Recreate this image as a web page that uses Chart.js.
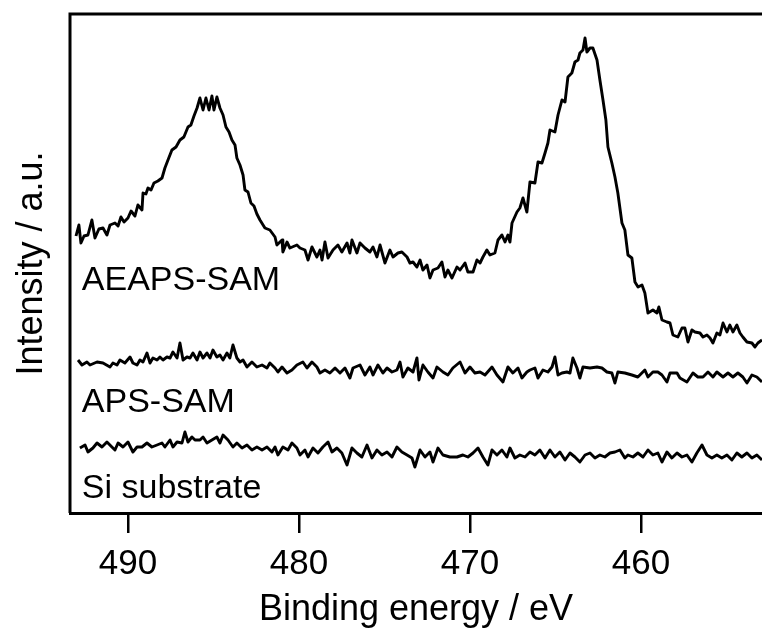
<!DOCTYPE html>
<html>
<head>
<meta charset="utf-8">
<script src="https://cdn.jsdelivr.net/npm/chart.js@4.4.1/dist/chart.umd.min.js"></script>
<style>
  html, body { margin: 0; padding: 0; background: #fff; }
  #wrap { width: 762px; height: 632px; }
</style>
</head>
<body>
<div id="wrap"><canvas id="chartXps" width="762" height="632"></canvas></div>
<script>
// binding energy (eV) / intensity (a.u.)
const aeapsEnergy = [493.04,492.87,492.75,492.57,492.34,492.11,491.93,491.70,491.46,491.23,491.05,490.76,490.58,490.41,490.23,490.00,489.82,489.59,489.42,489.18,489.12,488.95,488.83,488.65,488.48,488.25,488.01,487.84,487.66,487.43,487.19,486.96,486.73,486.49,486.32,486.14,485.96,485.79,485.61,485.44,485.26,485.09,484.97,484.80,484.62,484.44,484.27,484.09,483.92,483.74,483.63,483.45,483.27,483.16,482.98,482.81,482.63,482.46,482.28,481.99,481.70,481.40,481.29,480.99,480.94,480.70,480.53,480.12,479.94,479.65,479.47,479.24,478.95,478.77,478.65,478.48,478.30,478.01,477.72,477.49,477.19,477.02,476.90,476.61,476.43,476.14,475.85,475.67,475.44,475.26,474.97,474.68,474.50,474.21,473.98,473.68,473.51,473.33,473.10,472.92,472.75,472.51,472.34,472.16,471.87,471.64,471.46,471.29,471.05,470.76,470.58,470.29,470.12,469.82,469.59,469.41,469.24,469.01,468.83,468.54,468.36,468.13,467.95,467.78,467.66,467.54,467.25,467.08,466.90,466.67,466.49,466.20,466.02,465.79,465.61,465.44,465.32,465.03,464.85,464.62,464.44,464.27,464.04,463.86,463.68,463.57,463.39,463.27,463.16,462.98,462.81,462.57,462.40,462.22,462.05,461.93,461.70,461.52,461.35,461.11,460.94,460.76,460.53,460.35,460.17,459.94,459.77,459.59,459.30,459.06,458.95,458.77,458.48,458.30,458.13,457.84,457.60,457.43,457.25,457.02,456.84,456.55,456.37,456.14,455.96,455.79,455.56,455.38,455.20,454.97,454.80,454.62,454.39,454.21,454.04,453.80,453.51,453.33,453.16,452.92];
const aeapsIntensity = [277,288,270,277,278,293,275,284,285,278,288,290,287,296,291,295,302,297,308,303,320,319,325,323,330,332,335,345,353,363,366,373,376,386,388,397,405,415,403,415,403,417,403,416,405,398,386,381,373,368,355,348,338,323,321,310,307,299,293,285,283,276,268,273,261,271,265,268,265,263,253,266,256,263,253,271,255,263,268,261,270,260,273,260,270,265,261,266,256,268,250,263,256,260,261,256,250,251,246,253,243,248,235,243,245,251,236,243,235,246,243,250,241,241,253,250,256,263,258,260,273,278,271,278,271,290,301,305,315,301,331,330,351,350,360,370,383,381,398,413,411,436,440,451,453,460,463,475,461,465,465,453,433,413,393,366,350,336,320,290,283,258,255,231,226,228,220,200,203,200,206,193,191,190,178,176,185,185,171,183,181,180,176,178,175,170,180,178,190,181,188,181,188,180,176,171,170,166,170,173];

const apsEnergy = [492.92,492.69,492.40,492.22,491.81,491.46,491.05,490.88,490.64,490.47,490.18,489.88,489.71,489.47,489.30,489.12,488.89,488.71,488.54,488.30,488.13,487.95,487.72,487.54,487.37,487.13,486.96,486.78,486.55,486.37,486.20,485.96,485.79,485.61,485.38,485.20,485.03,484.80,484.62,484.44,484.21,484.04,483.86,483.63,483.45,483.27,483.04,482.75,482.46,482.16,481.87,481.70,481.40,481.23,480.99,480.70,480.41,480.12,479.77,479.53,479.24,478.95,478.77,478.48,478.19,477.89,477.60,477.31,477.02,476.84,476.43,476.14,475.85,475.67,475.38,475.09,474.85,474.56,474.27,474.09,473.92,473.63,473.33,473.10,472.98,472.75,472.46,472.16,471.93,471.58,471.29,471.00,470.58,470.29,470.00,469.71,469.41,469.12,468.71,468.42,468.07,467.78,467.49,467.19,466.96,466.67,466.49,466.20,466.02,465.73,465.44,465.20,465.03,464.85,464.62,464.33,464.15,463.98,463.74,463.57,463.39,462.98,462.57,462.28,461.99,461.70,461.52,461.35,460.94,460.53,460.18,459.77,459.59,459.30,459.01,458.77,458.48,458.30,457.89,457.72,457.31,456.96,456.67,456.37,456.08,455.79,455.56,455.20,454.91,454.62,454.33,454.04,453.80,453.51,453.22,452.92];
const apsIntensity = [153,148,151,148,151,150,146,150,148,153,150,156,150,148,153,151,160,150,155,153,156,153,156,155,161,155,170,153,156,155,160,153,161,155,160,155,163,156,158,153,160,155,168,155,151,153,146,151,146,148,145,150,145,141,146,140,143,148,151,145,151,146,140,143,140,145,140,145,135,145,148,138,146,138,148,140,145,141,143,151,136,145,141,155,133,148,141,135,146,141,138,145,151,140,146,140,141,138,146,138,131,146,140,145,135,141,143,145,135,143,141,146,156,138,140,141,140,155,145,135,146,145,146,145,141,140,130,141,140,138,136,143,136,141,141,138,131,140,140,135,131,140,136,136,141,136,141,136,140,136,140,136,130,138,136,131];

const siEnergy = [492.81,492.51,492.34,492.05,491.81,491.52,491.23,490.94,490.76,490.58,490.29,490.00,489.71,489.47,489.18,488.89,488.60,488.30,488.01,487.84,487.54,487.37,487.13,486.84,486.67,486.49,486.26,486.08,485.79,485.61,485.38,485.09,484.80,484.62,484.44,484.15,483.86,483.63,483.33,483.04,482.75,482.46,482.16,481.87,481.58,481.40,481.23,480.94,480.64,480.41,480.12,479.94,479.65,479.47,479.18,478.89,478.60,478.30,478.07,477.78,477.49,477.19,476.90,476.61,476.32,476.02,475.73,475.44,475.15,474.85,474.56,474.27,473.98,473.68,473.39,473.22,472.92,472.63,472.34,472.16,471.87,471.58,471.17,470.76,470.41,470.12,469.82,469.53,469.24,468.95,468.71,468.42,468.13,467.84,467.66,467.37,467.08,466.78,466.49,466.20,465.91,465.61,465.32,465.03,464.74,464.44,464.15,463.86,463.57,463.27,462.98,462.69,462.40,462.11,461.81,461.52,461.23,460.94,460.76,460.47,460.18,459.88,459.59,459.30,459.01,458.77,458.48,458.19,457.89,457.60,457.31,457.02,456.73,456.43,456.14,455.85,455.56,455.27,454.97,454.68,454.39,454.10,453.80,453.51,453.22,452.92];
const siIntensity = [65,68,61,65,70,66,71,66,63,70,66,71,61,66,66,70,66,68,70,66,73,66,71,70,81,71,76,73,73,76,70,73,76,70,78,73,66,70,65,68,63,66,63,66,61,66,58,66,63,70,65,58,63,56,65,60,66,71,61,65,60,48,65,60,56,68,55,63,58,61,56,66,61,58,55,46,63,56,61,51,65,58,56,56,58,56,60,65,56,48,63,58,63,56,65,55,58,56,61,58,63,55,63,56,61,53,60,56,51,58,60,55,58,56,60,61,63,55,58,56,60,56,63,58,60,51,61,55,60,56,58,51,60,68,58,55,58,55,58,53,60,56,60,55,58,53];

const xTicks = [490, 480, 470, 460];
const sampleNames = ['AEAPS-SAM', 'APS-SAM', 'Si substrate'];

const fontFamily = '"Liberation Sans", Arial, Helvetica, sans-serif';

function toPoints(energy, intensity) {
    return energy.map((e, i) => ({ x: e, y: intensity[i] }));
}

const lineStyle = {
    borderColor: '#000',
    borderWidth: 2.9,
    borderJoinStyle: 'round',
    pointRadius: 0,
    tension: 0,
    fill: false
};

// frame lines, sample names and the rotated y title
const decorations = {
    id: 'decorations',
    afterDraw(chart) {
        const { ctx, chartArea: a, scales } = chart;
        ctx.save();
        ctx.strokeStyle = '#000';
        ctx.lineWidth = 3;
        ctx.beginPath();
        ctx.moveTo(a.left, a.bottom);
        ctx.lineTo(a.left, a.top);
        ctx.lineTo(a.right, a.top);
        ctx.stroke();

        ctx.fillStyle = '#000';
        ctx.font = '34px ' + fontFamily;
        ctx.textAlign = 'left';
        ctx.textBaseline = 'alphabetic';
        const spots = [[492.7, 223], [492.7, 101], [492.7, 15]];
        sampleNames.forEach((name, i) => {
            ctx.fillText(name, scales.x.getPixelForValue(spots[i][0]), scales.y.getPixelForValue(spots[i][1]));
        });

        ctx.font = '36px ' + fontFamily;
        ctx.textAlign = 'center';
        ctx.translate(42, (a.top + a.bottom) / 2);
        ctx.rotate(-Math.PI / 2);
        ctx.fillText('Intensity / a.u.', 0, 0);
        ctx.restore();
    }
};

const ctx = document.getElementById('chartXps').getContext('2d');
new Chart(ctx, {
    type: 'line',
    data: {
        datasets: [
            { label: sampleNames[0], data: toPoints(aeapsEnergy, aeapsIntensity), ...lineStyle },
            { label: sampleNames[1], data: toPoints(apsEnergy, apsIntensity), ...lineStyle },
            { label: sampleNames[2], data: toPoints(siEnergy, siIntensity), ...lineStyle }
        ]
    },
    options: {
        responsive: false,
        animation: false,
        layout: { padding: { left: 70, top: 14, right: 0, bottom: 0 } },
        plugins: {
            legend: { display: false },
            tooltip: { enabled: false }
        },
        scales: {
            x: {
                type: 'linear',
                reverse: true,
                min: 452.92,
                max: 493.39,
                afterBuildTicks: axis => { axis.ticks = xTicks.map(v => ({ value: v })); },
                afterFit: axis => { axis.height = 119; },
                grid: {
                    drawOnChartArea: false,
                    drawTicks: true,
                    tickLength: 20,
                    lineWidth: 2.5,
                    color: '#000'
                },
                border: { display: true, width: 3, color: '#000' },
                ticks: {
                    color: '#000',
                    padding: 10,
                    maxRotation: 0,
                    font: { family: fontFamily, size: 35 }
                },
                title: {
                    display: true,
                    text: 'Binding energy / eV',
                    color: '#000',
                    padding: { top: 0, bottom: 0 },
                    font: { family: fontFamily, size: 36 }
                }
            },
            y: {
                display: false,
                min: 0,
                max: 499
            }
        }
    },
    plugins: [decorations]
});
</script>
</body>
</html>
